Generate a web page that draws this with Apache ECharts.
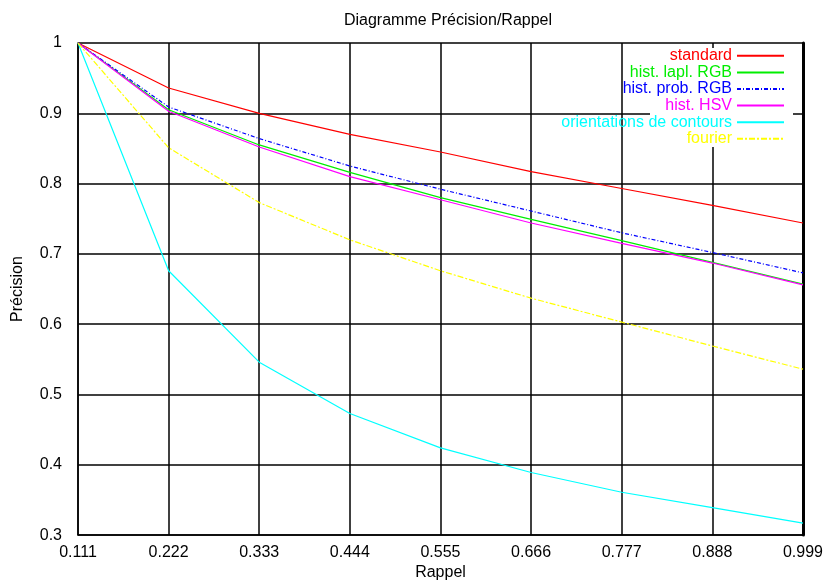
<!DOCTYPE html>
<html>
<head>
<meta charset="utf-8">
<script src="https://cdn.jsdelivr.net/npm/echarts@6/dist/echarts.min.js"></script>
<style>html,body{margin:0;padding:0;background:#fff;}#c{width:826px;height:586px;}</style>
</head>
<body>
<div id="c"></div>
<script>
const recallLabels = ['0.111','0.222','0.333','0.444','0.555','0.666','0.777','0.888','0.999'];
const standard   = [1, 0.936, 0.900, 0.870, 0.845, 0.817, 0.793, 0.769, 0.744];
const histLaplRGB = [1, 0.905, 0.855, 0.816, 0.780, 0.749, 0.719, 0.688, 0.657];
const histProbRGB = [1, 0.909, 0.864, 0.825, 0.792, 0.761, 0.730, 0.702, 0.673];
const histHSV    = [1, 0.903, 0.852, 0.810, 0.777, 0.744, 0.715, 0.687, 0.656];
const orientations = [1, 0.676, 0.546, 0.473, 0.424, 0.389, 0.361, 0.339, 0.317];
const fourier    = [1, 0.851, 0.773, 0.720, 0.676, 0.637, 0.603, 0.569, 0.536];

const seriesDefs = [
  {name:'standard', data:standard, color:'#ff0000', type:'solid'},
  {name:'hist. lapl. RGB', data:histLaplRGB, color:'#00ee00', type:'solid'},
  {name:'hist. prob. RGB', data:histProbRGB, color:'#0000ff', type:[4,2,1,2]},
  {name:'hist. HSV', data:histHSV, color:'#ff00ff', type:'solid'},
  {name:'orientations de contours', data:orientations, color:'#00ffff', type:'solid'},
  {name:'fourier', data:fourier, color:'#ffff00', type:[6,2,2,2]}
];

const font = 'Liberation Sans, Arial, sans-serif';
const FS = 16;
const chart = echarts.init(document.getElementById('c'), null, {renderer:'canvas'});
chart.setOption({
  animation:false,
  backgroundColor:'#fff',
  title:{text:'Diagramme Précision/Rappel', left:443, top:8, textAlign:'center',
    textStyle:{fontFamily:font, fontSize:FS, fontWeight:'normal', color:'#000'}},
  grid:{left:78, right:23, top:43, bottom:49},
  graphic:[{type:'rect', z:1, shape:{x:650, y:48, width:143, height:99}, style:{fill:'#fff'}}],
  legend:{
    orient:'vertical', right:41, top:47.5, align:'right', itemGap:0, padding:0,
    itemWidth:47, itemHeight:14,
    itemStyle:{opacity:0},
    textStyle:{fontFamily:font, fontSize:FS, lineHeight:16.6},
    data: seriesDefs.map(s => ({name:s.name, textStyle:{color:s.color}}))
  },
  xAxis:{
    type:'category', data:recallLabels, boundaryGap:false,
    name:'Rappel', nameLocation:'middle', nameGap:29,
    nameTextStyle:{fontFamily:font, fontSize:FS, color:'#000'},
    axisLine:{show:true, lineStyle:{color:'#000', width:1.5}},
    axisTick:{show:false},
    axisLabel:{fontFamily:font, fontSize:FS, color:'#000', margin:9},
    splitLine:{show:true, lineStyle:{color:'#000', width:1.5}}
  },
  yAxis:[{
    type:'value', min:0.3, max:1, interval:0.1,
    name:'Précision', nameLocation:'middle', nameGap:52, nameRotate:90,
    nameTextStyle:{fontFamily:font, fontSize:FS, color:'#000'},
    axisLine:{show:true, lineStyle:{color:'#000', width:1.5}},
    axisTick:{show:false},
    axisLabel:{fontFamily:font, fontSize:FS, color:'#000', margin:16,
      formatter:v => (Math.abs(v-1)<1e-9 ? '1' : v.toFixed(1))},
    splitLine:{show:true, lineStyle:{color:'#000', width:1.5}}
  },{
    type:'value', min:0.3, max:1, interval:0.1, position:'right',
    axisLine:{show:true, lineStyle:{color:'#000', width:3}},
    axisTick:{show:false}, axisLabel:{show:false}, splitLine:{show:false}
  }],
  series: seriesDefs.map(s => ({
    name:s.name, type:'line', data:s.data, symbol:'none', smooth:false,
    itemStyle:{color:s.color},
    lineStyle:{color:s.color, width:1.2, type:s.type}
  }))
});
</script>
</body>
</html>
